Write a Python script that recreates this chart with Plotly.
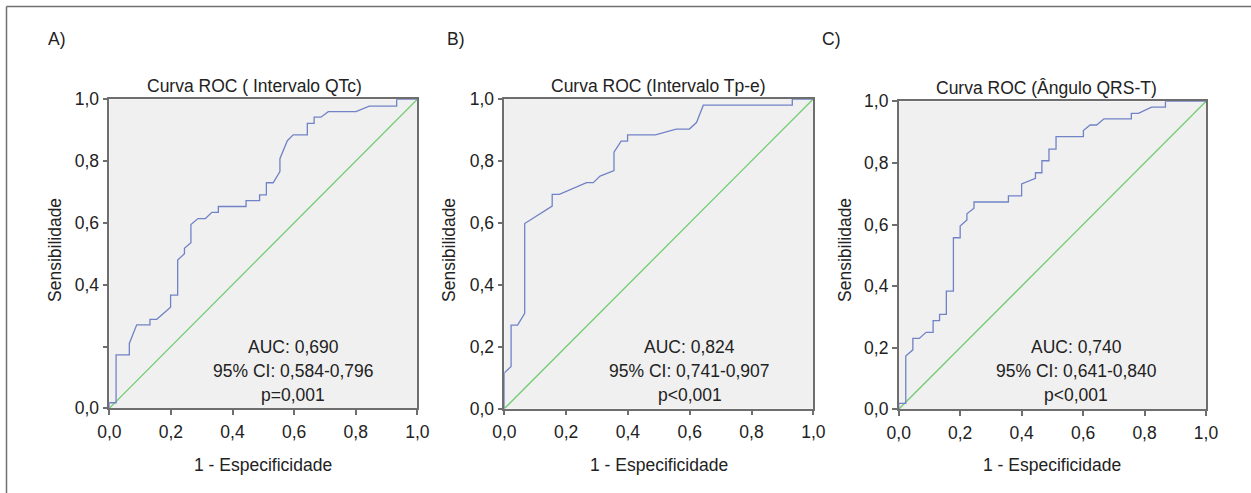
import plotly.graph_objects as go

# ---------------- data ----------------
panel_labels = ["A)", "B)", "C)"]
titles = ["Curva ROC ( Intervalo QTc)", "Curva ROC (Intervalo Tp-e)", "Curva ROC (Ângulo QRS-T)"]
auc_texts = ["AUC: 0,690", "AUC: 0,824", "AUC: 0,740"]
ci_texts = ["95% CI: 0,584-0,796", "95% CI: 0,741-0,907", "95% CI: 0,641-0,840"]
p_texts = ["p=0,001", "p<0,001", "p<0,001"]

tick_vals = [0, 0.2, 0.4, 0.6, 0.8, 1.0]
tick_text = ["0,0", "0,2", "0,4", "0,6", "0,8", "1,0"]
tick_text_y_a = ["0,0", "", "0,4", "0,6", "0,8", "1,0"]

fpr_a = [0, 0, 0.022, 0.022, 0.065, 0.065, 0.089, 0.132, 0.132, 0.154,
         0.199, 0.199, 0.222, 0.222, 0.244, 0.244, 0.265, 0.265, 0.288, 0.312,
         0.333, 0.354, 0.354, 0.444, 0.444, 0.488, 0.488, 0.51, 0.51, 0.532,
         0.554, 0.554, 0.578, 0.597, 0.643, 0.643, 0.665, 0.665, 0.687, 0.711,
         0.801, 0.844, 0.933, 0.933, 1.0]
tpr_a = [0, 0.018, 0.018, 0.173, 0.173, 0.21, 0.27, 0.27, 0.288, 0.288,
         0.327, 0.366, 0.366, 0.48, 0.5, 0.518, 0.536, 0.595, 0.614, 0.614,
         0.634, 0.634, 0.653, 0.653, 0.672, 0.672, 0.691, 0.691, 0.73, 0.73,
         0.766, 0.808, 0.866, 0.885, 0.885, 0.922, 0.922, 0.942, 0.942, 0.96,
         0.96, 0.978, 0.978, 1.0, 1.0]

fpr_b = [0, 0, 0.022, 0.022, 0.043, 0.066, 0.066, 0.155, 0.155, 0.178,
         0.266, 0.288, 0.31, 0.355, 0.355, 0.378, 0.399, 0.399, 0.489, 0.556,
         0.599, 0.622, 0.644, 0.932, 0.932, 1.0]
tpr_b = [0, 0.116, 0.136, 0.27, 0.27, 0.308, 0.598, 0.654, 0.692, 0.692,
         0.73, 0.73, 0.751, 0.769, 0.828, 0.864, 0.864, 0.884, 0.884, 0.903,
         0.903, 0.924, 0.98, 0.98, 1.0, 1.0]

fpr_c = [0, 0, 0.023, 0.023, 0.046, 0.046, 0.067, 0.089, 0.112, 0.112,
         0.133, 0.133, 0.155, 0.155, 0.178, 0.178, 0.2, 0.2, 0.222, 0.222,
         0.245, 0.245, 0.357, 0.357, 0.4, 0.4, 0.445, 0.445, 0.466, 0.466,
         0.489, 0.489, 0.512, 0.512, 0.601, 0.601, 0.623, 0.644, 0.668, 0.757,
         0.757, 0.78, 0.823, 0.868, 0.868, 1.0]
tpr_c = [0, 0.019, 0.019, 0.173, 0.193, 0.23, 0.23, 0.25, 0.25, 0.288,
         0.288, 0.308, 0.308, 0.384, 0.384, 0.557, 0.557, 0.595, 0.615, 0.635,
         0.653, 0.673, 0.673, 0.693, 0.693, 0.732, 0.75, 0.768, 0.768, 0.807,
         0.807, 0.845, 0.845, 0.885, 0.885, 0.905, 0.923, 0.923, 0.943, 0.943,
         0.961, 0.961, 0.981, 0.981, 1.0, 1.0]

ref_line = [0, 1]

# ---------------- layout helpers ----------------
W, H = 1251, 493
FONT = "Liberation Sans, Arial, sans-serif"
FS = 17.5
TXT = "#222222"
AX = "#6e6e6e"
CURVE = "#7182c6"
DIAG = "#72cc72"


def xp(px):
    return px / W


def yp(py):
    return 1 - py / H


# plot-area pixel boxes: (left, right, top, bottom)
boxes = [(109.3, 417.3, 99.3, 408.3), (504.3, 813.3, 99.0, 408.7), (898.7, 1206.0, 101.3, 409.3)]
title_cx = [254.5, 658, 1046.5]
label_x = [46, 445, 820]
ytitle_x = [55, 449, 845]
text_cx = [293.3, 689.5, 1076]

fig = go.Figure()
curves = [(fpr_a, tpr_a), (fpr_b, tpr_b), (fpr_c, tpr_c)]
annotations = []
for i, (fx, ty) in enumerate(curves):
    n = "" if i == 0 else str(i + 1)
    xa, ya = "x" + n, "y" + n
    fig.add_trace(go.Scatter(x=ref_line, y=ref_line, mode="lines", xaxis=xa, yaxis=ya,
                             line=dict(color=DIAG, width=1.3), showlegend=False, hoverinfo="skip"))
    fig.add_trace(go.Scatter(x=fx, y=ty, mode="lines", xaxis=xa, yaxis=ya,
                             line=dict(color=CURVE, width=1.3), showlegend=False))
    l, r, t, b = boxes[i]
    common = dict(range=[0, 1], showgrid=False, zeroline=False, showline=True, mirror=True,
                  linecolor=AX, linewidth=1.5, ticks="outside", ticklen=5, tickcolor=AX,
                  tickwidth=1.5, tickvals=tick_vals, tickfont=dict(family=FONT, size=FS, color=TXT),
                  fixedrange=True, automargin=False)
    fig.layout["xaxis" + n] = go.layout.XAxis(domain=[xp(l), xp(r)], anchor=ya,
                                              ticktext=tick_text, ticklabelstandoff=2, **common)
    fig.layout["yaxis" + n] = go.layout.YAxis(domain=[yp(b), yp(t)], anchor=xa,
                                              ticktext=(tick_text_y_a if i == 0 else tick_text),
                                              ticklabelstandoff=0, **common)
    cx = (l + r) / 2
    annotations += [
        dict(text=panel_labels[i], x=xp(label_x[i]), y=yp(39), xanchor="left", yanchor="middle"),
        dict(text=titles[i], x=xp(title_cx[i]), y=yp(t - 1), xanchor="center", yanchor="bottom"),
        dict(text="1 - Especificidade", x=xp(cx), y=yp(465), xanchor="center", yanchor="middle"),
        dict(text="Sensibilidade", x=xp(ytitle_x[i]), y=yp(250), xanchor="center", yanchor="middle",
             textangle=-90),
        dict(text=auc_texts[i], x=xp(text_cx[i]), y=yp(346.5), xanchor="center", yanchor="middle"),
        dict(text=ci_texts[i], x=xp(text_cx[i]), y=yp(370.5), xanchor="center", yanchor="middle"),
        dict(text=p_texts[i], x=xp(text_cx[i]), y=yp(395), xanchor="center", yanchor="middle"),
    ]

for a in annotations:
    a.update(xref="paper", yref="paper", showarrow=False, font=dict(family=FONT, size=FS, color=TXT))

shapes = [
    dict(type="line", xref="paper", yref="paper", x0=xp(6.5), x1=1, y0=yp(6.5), y1=yp(6.5),
         line=dict(color="#707070", width=1.5)),
    dict(type="line", xref="paper", yref="paper", x0=xp(6.5), x1=xp(6.5), y0=0, y1=yp(6.5),
         line=dict(color="#707070", width=1.5)),
]

fig.update_layout(width=W, height=H, margin=dict(l=0, r=0, t=0, b=0, autoexpand=False),
                  paper_bgcolor="white", plot_bgcolor="#f0f0f0",
                  annotations=annotations, shapes=shapes, showlegend=False,
                  font=dict(family=FONT, size=FS, color=TXT))

fig.write_html("out.html", config={"displayModeBar": False},
               post_script="document.body.style.margin='0px';document.body.style.overflow='hidden';")
